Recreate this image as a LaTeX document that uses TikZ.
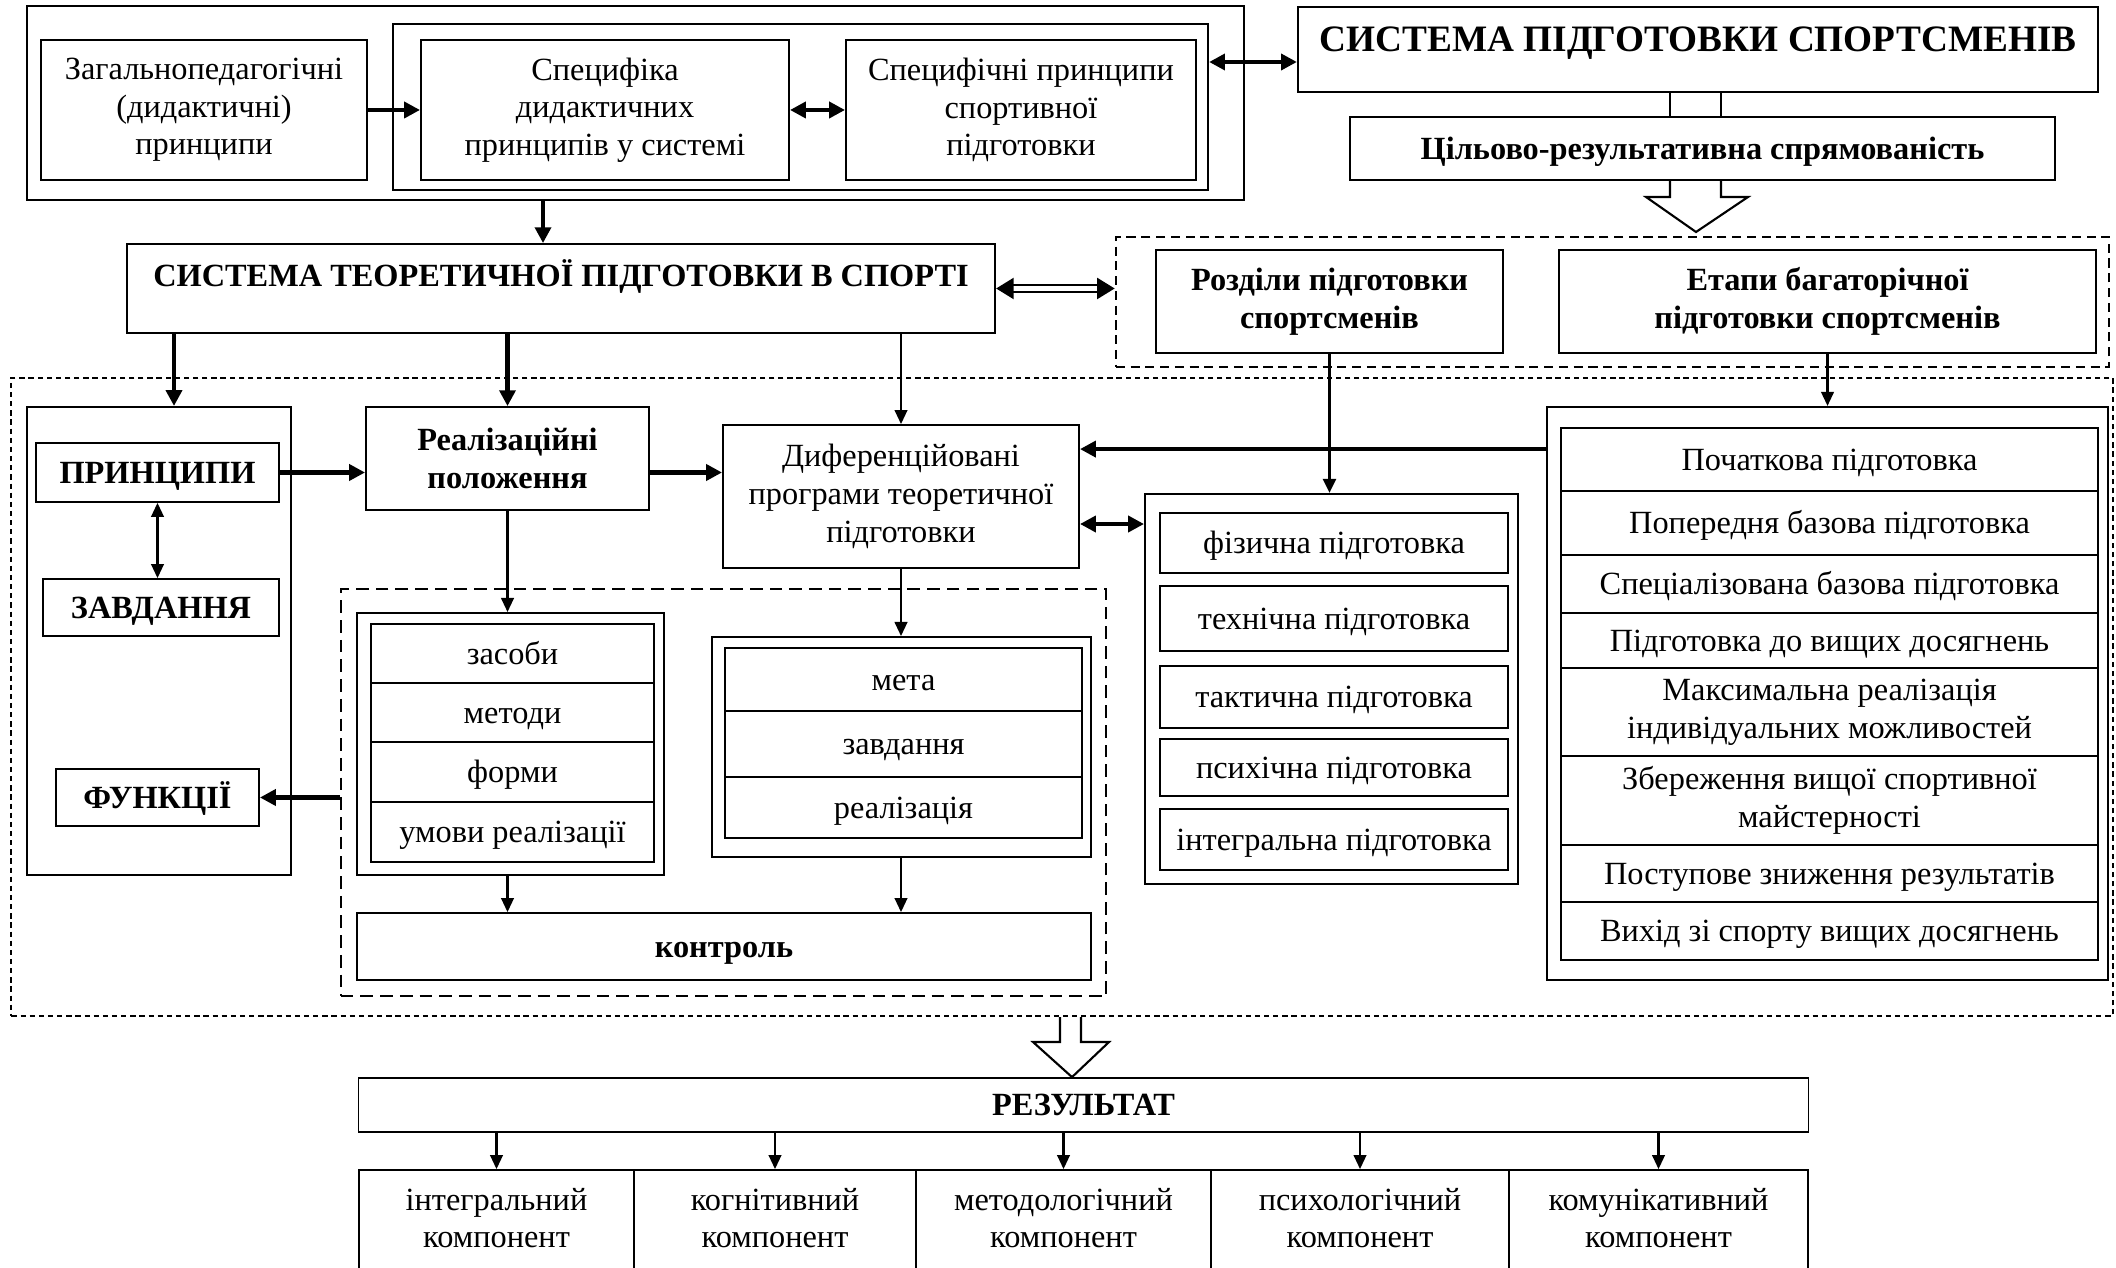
\documentclass[tikz,border=0pt]{standalone}
\usepackage{fontspec}
\setmainfont{Liberation Serif}
\usepackage{tikz}
\usetikzlibrary{arrows.meta, positioning}

\begin{document}
\begin{tikzpicture}[
	x=0.01cm, y=-0.01cm,
	MyBox/.style={draw, line width=0.5pt, align=center, inner sep=0pt,
		font=\fontsize{9.2}{10.7}\selectfont},
	MyBold/.style={MyBox, font=\fontsize{9.2}{10.7}\selectfont\bfseries},
	Row/.style={MyBox, text height=8.2pt, text depth=2pt},
	BoldRow/.style={MyBold, text height=8.2pt, text depth=2pt},
	DotBox/.style={draw, line width=0.6pt, dash pattern=on 1.5pt off 1.1pt},
	DashBox/.style={draw, line width=0.6pt, dash pattern=on 2.6pt off 1.6pt},
	LongDash/.style={draw, line width=0.7pt, dash pattern=on 3.6pt off 2pt},
	Arr/.style={-{Triangle[length=4pt,width=3.6pt]}, line width=0.6pt},
	BigArr/.style={-{Triangle[length=4.5pt,width=4.5pt]}, line width=1.2pt},
	BothArr/.style={{Triangle[length=4pt,width=3.6pt]}-{Triangle[length=4pt,width=3.6pt]}, line width=0.6pt},
	BigBoth/.style={{Triangle[length=4.5pt,width=4.5pt]}-{Triangle[length=4.5pt,width=4.5pt]}, line width=1.2pt}
	]
\useasboundingbox (0,0) rectangle (2116,1268);

% top block
\node [MyBox, minimum width=12.17cm, minimum height=1.94cm] (outerTop) at (635.5,103) {};
\node [MyBox, minimum width=8.15cm, minimum height=1.66cm] (innerTop) at (800.5,107) {};
\node [MyBox, minimum width=3.26cm, minimum height=1.4cm] (zag) at (204,110) {Загальнопедагогічні\\(дидактичні)\\принципи};
\node [MyBox, minimum width=3.68cm, minimum height=1.4cm] (spec) at (605,110) {Специфіка\\дидактичних\\принципів у системі};
\node [MyBox, minimum width=3.5cm, minimum height=1.4cm] (specPr) at (1021,110) {Специфічні принципи\\спортивної\\підготовки};
\draw [BigArr] (zag) -- (spec);
\draw [BigBoth] (spec) -- (specPr);

\node [MyBox, font=\fontsize{10.6}{12}\selectfont\bfseries, minimum width=8cm, minimum height=0.85cm, text depth=6pt] (title) at (1698,49.5) {СИСТЕМА ПІДГОТОВКИ СПОРТСМЕНІВ};
\node [BoldRow, minimum width=7.05cm, minimum height=0.63cm] (goal) at (1702.5,148.5) {Цільово-результативна спрямованість};
\coordinate (titleIn) at ([yshift=-0.125cm]title.west);
\draw [BigBoth] (titleIn) -- (innerTop.east |- titleIn);

% hollow arrow under the title
\draw [line width=0.6pt] (title.south -| 1670,0) -- (goal.north -| 1670,0)
	(title.south -| 1721,0) -- (goal.north -| 1721,0);
\draw [line width=0.6pt] (goal.south -| 1670,0) -- (1670,197) -- (1646,197) -- (1696,232)
	-- (1748,197) -- (1721,197) -- (goal.south -| 1721,0);

% sections and stages
\node [DashBox, minimum width=9.93cm, minimum height=1.3cm] (group) at (1612.5,302) {};
\node [MyBold, minimum width=3.47cm, minimum height=1.03cm] (rozdily) at (1329.5,301.5) {Розділи підготовки\\спортсменів};
\node [MyBold, minimum width=5.37cm, minimum height=1.03cm] (etapy) at (1827.5,301.5) {Етапи багаторічної\\підготовки спортсменів};

\node [MyBold, minimum width=8.68cm, minimum height=0.89cm, text depth=9pt] (stps) at (561,288.5) {СИСТЕМА ТЕОРЕТИЧНОЇ ПІДГОТОВКИ В СПОРТІ};
\draw [BigArr] (outerTop.south -| 543,0) -- (stps.north -| 543,0);
\draw [double, double distance=1.4pt, line width=0.6pt, {Triangle[length=5pt,width=6pt]}-{Triangle[length=5pt,width=6pt]}] (stps.east) -- (group.west |- stps.east);

% main dotted area
\node [DotBox, minimum width=21cm, minimum height=6.38cm] (bigBox) at (1062,697) {};

\node [MyBox, minimum width=2.64cm, minimum height=4.68cm] (leftCol) at (159,641) {};
\node [BoldRow, minimum width=2.43cm, minimum height=0.59cm] (pryntsypy) at (157.5,472.5) {ПРИНЦИПИ};
\node [BoldRow, minimum width=2.36cm, minimum height=0.57cm] (zavd) at (161,607.5) {ЗАВДАННЯ};
\node [BoldRow, minimum width=2.03cm, minimum height=0.57cm] (funk) at (157.5,797.5) {ФУНКЦІЇ};
\draw [BothArr] (pryntsypy.south) -- (zavd.north -| pryntsypy.south);

\node [MyBold, minimum width=2.83cm, minimum height=1.03cm] (real) at (507.5,458.5) {Реалізаційні\\положення};
\node [MyBox, minimum width=3.56cm, minimum height=1.43cm] (dyf) at (901,496.5) {Диференційовані\\програми теоретичної\\підготовки};
\draw [BigArr] (stps.south -| 174,0) -- (leftCol.north -| 174,0);
\draw [BigArr] (stps.south -| real.north) -- (real.north);
\draw [Arr] (stps.south -| dyf.north) -- (dyf.north);
\draw [BigArr] (pryntsypy.east) -- (real.west |- pryntsypy.east);
\draw [BigArr] (real.east |- pryntsypy.east) -- (dyf.west |- pryntsypy.east);

% means, methods, control
\node [LongDash, minimum width=7.65cm, minimum height=4.07cm] (innerDash) at (723.5,792.5) {};
\draw [BigArr] (innerDash.west |- funk.east) -- (funk.east);

\node [MyBox, minimum width=3.07cm, minimum height=2.62cm] (zasCont) at (510.5,744) {};
\node [Row, minimum width=2.83cm, minimum height=0.59cm] (zas1) at (512.5,653.5) {засоби};
\node [Row, minimum width=2.83cm, minimum height=0.59cm] (zas2) at (512.5,712.5) {методи};
\node [Row, minimum width=2.83cm, minimum height=0.6cm] (zas3) at (512.5,772) {форми};
\node [Row, minimum width=2.83cm, minimum height=0.6cm] (zas4) at (512.5,832) {умови реалізації};

\node [MyBox, minimum width=3.79cm, minimum height=2.2cm] (metaCont) at (901.5,747) {};
\node [Row, minimum width=3.57cm, minimum height=0.63cm] (meta1) at (903.5,679.5) {мета};
\node [Row, minimum width=3.57cm, minimum height=0.66cm] (meta2) at (903.5,744) {завдання};
\node [Row, minimum width=3.57cm, minimum height=0.61cm] (meta3) at (903.5,807.5) {реалізація};

\node [BoldRow, minimum width=7.34cm, minimum height=0.67cm] (kontrol) at (724,946.5) {контроль};
\draw [Arr] (real.south) -- (zasCont.north -| real.south);
\draw [Arr] (dyf.south) -- (metaCont.north -| dyf.south);
\draw [Arr] (zasCont.south -| real.south) -- (kontrol.north -| real.south);
\draw [Arr] (metaCont.south -| dyf.south) -- (kontrol.north -| dyf.south);

% kinds of training
\node [MyBox, minimum width=3.73cm, minimum height=3.9cm] (fizCont) at (1331.5,689) {};
\node [Row, minimum width=3.48cm, minimum height=0.6cm] (fiz1) at (1334,543) {фізична підготовка};
\node [Row, minimum width=3.48cm, minimum height=0.65cm] (fiz2) at (1334,618.5) {технічна підготовка};
\node [Row, minimum width=3.48cm, minimum height=0.62cm] (fiz3) at (1334,697) {тактична підготовка};
\node [Row, minimum width=3.48cm, minimum height=0.57cm] (fiz4) at (1334,767.5) {психічна підготовка};
\node [Row, minimum width=3.48cm, minimum height=0.61cm] (fiz5) at (1334,839.5) {інтегральна підготовка};
\draw [Arr, line width=0.9pt] (rozdily.south) -- (fizCont.north -| rozdily.south);

% stages of long-term training
\node [MyBox, minimum width=5.61cm, minimum height=5.73cm] (etapCont) at (1827.5,693.5) {};
\node [Row, minimum width=5.37cm, minimum height=0.63cm] (etap1) at (1829.5,459.5) {Початкова підготовка};
\node [Row, minimum width=5.37cm, minimum height=0.64cm] (etap2) at (1829.5,523) {Попередня базова підготовка};
\node [Row, minimum width=5.37cm, minimum height=0.58cm] (etap3) at (1829.5,584) {Спеціалізована базова підготовка};
\node [Row, minimum width=5.37cm, minimum height=0.55cm] (etap4) at (1829.5,640.5) {Підготовка до вищих досягнень};
\node [MyBox, minimum width=5.37cm, minimum height=0.88cm] (etap5) at (1829.5,712) {Максимальна реалізація\\індивідуальних можливостей};
\node [MyBox, minimum width=5.37cm, minimum height=0.89cm] (etap6) at (1829.5,800.5) {Збереження вищої спортивної\\майстерності};
\node [Row, minimum width=5.37cm, minimum height=0.57cm] (etap7) at (1829.5,873.5) {Поступове зниження результатів};
\node [Row, minimum width=5.37cm, minimum height=0.58cm] (etap8) at (1829.5,931) {Вихід зі спорту вищих досягнень};
\draw [Arr] (etapy.south) -- (etapCont.north -| etapy.south);

\coordinate (dyfIn) at ([yshift=-0.25cm]dyf.north east);
\coordinate (dyfOut) at ([yshift=-0.275cm]dyf.east);
\draw [BigArr] (etapCont.west |- dyfIn) -- (dyfIn);
\draw [BigBoth] (dyfOut) -- (fizCont.west |- dyfOut);

% result
\node [BoldRow, minimum width=14.49cm, minimum height=0.54cm] (result) at (1083.5,1105) {РЕЗУЛЬТАТ};
\draw [line width=0.6pt] (bigBox.south -| 1060,0) -- (1060,1042) -- (1033,1042) -- (result.north -| 1072,0)
	-- (1109,1042) -- (1081,1042) -- (bigBox.south -| 1081,0);

\node [MyBox, minimum width=2.75cm, minimum height=1.1cm, text depth=4pt] (comp1) at (496.5,1225) {інтегральний\\компонент};
\node [MyBox, minimum width=2.82cm, minimum height=1.1cm, text depth=4pt] (comp2) at (775,1225) {когнітивний\\компонент};
\node [MyBox, minimum width=2.95cm, minimum height=1.1cm, text depth=4pt] (comp3) at (1063.5,1225) {методологічний\\компонент};
\node [MyBox, minimum width=2.98cm, minimum height=1.1cm, text depth=4pt] (comp4) at (1360,1225) {психологічний\\компонент};
\node [MyBox, minimum width=2.99cm, minimum height=1.1cm, text depth=4pt] (comp5) at (1658.5,1225) {комунікативний\\компонент};
\foreach \c in {comp1, comp2, comp3, comp4, comp5}
	\draw [Arr] (result.south -| \c.north) -- (\c.north);

\end{tikzpicture}
\end{document}
